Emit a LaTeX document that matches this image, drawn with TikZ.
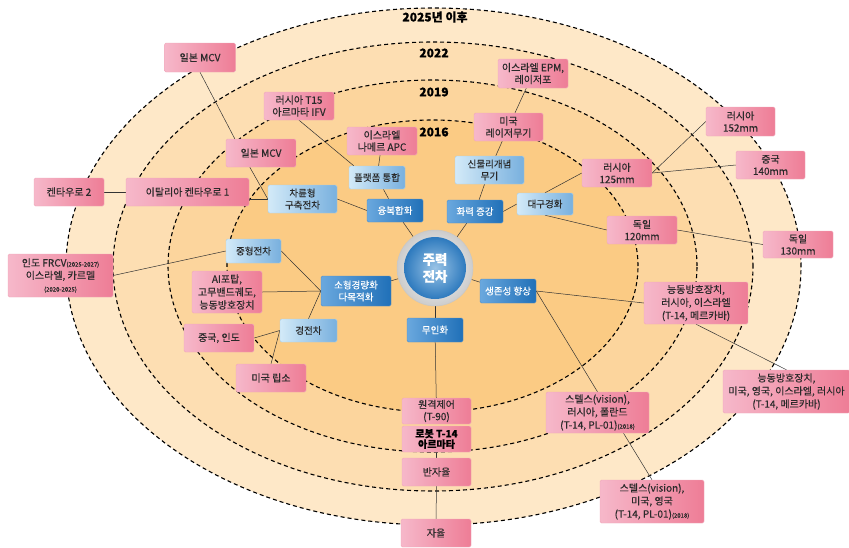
\documentclass[tikz,border=0pt]{standalone}
\usepackage{fontspec}
\setmainfont{Noto Sans CJK KR}[FakeBold=0.35]
\usetikzlibrary{calc,backgrounds}
\definecolor{ringA}{HTML}{FEE8C8}
\definecolor{ringB}{HTML}{FDDEB2}
\definecolor{ringC}{HTML}{FCD59D}
\definecolor{ringD}{HTML}{FBCB84}
\definecolor{pinkL}{HTML}{F6B8CA}
\definecolor{pinkR}{HTML}{EE7D96}
\definecolor{pinkB}{HTML}{F0A8BA}
\definecolor{lbL}{HTML}{D3EAF8}
\definecolor{lbR}{HTML}{78B0DE}
\definecolor{lbB}{HTML}{A9CFEA}
\definecolor{dbL}{HTML}{6AA8DE}
\definecolor{dbR}{HTML}{2070B8}
\definecolor{dbB}{HTML}{4F8FCC}
\definecolor{txt}{HTML}{2A2A2A}
\definecolor{lnk}{HTML}{333333}
\newcommand\pkfont{\fontsize{10}{12}\selectfont}
\newcommand\bxfont{\fontsize{9.5}{12}\selectfont}
\tikzset{
  pk/.style={rounded corners=1.5pt, left color=pinkL, right color=pinkR, draw=pinkB, line width=0.4pt,
    text=txt, align=center, font=\pkfont, inner sep=0pt, minimum width=70pt, minimum height=28pt},
  lb/.style={rounded corners=1.5pt, left color=lbL, right color=lbR, draw=lbB, line width=0.4pt,
    text=txt, align=center, font=\bxfont, inner sep=0pt, minimum width=69pt, minimum height=28pt},
  db/.style={rounded corners=1.5pt, left color=dbL, right color=dbR, draw=dbB, line width=0.4pt,
    text=white, align=center, font=\bxfont, inner sep=0pt, minimum width=56pt, minimum height=23pt},
  ring/.style={draw=black, line width=1.1pt, dash pattern=on 4pt off 3pt},
  yr/.style={font=\fontsize{12}{13}\selectfont\bfseries, text=black, inner sep=0pt},
  lk/.style={draw=lnk, line width=0.5pt}
}
\begin{document}
\begin{tikzpicture}[x=1pt,y=-1pt]
\useasboundingbox (0,0) rectangle (849,547);
\begin{scope}[on background layer]
\fill[white] (0,0) rectangle (849,547);
\filldraw[ring, fill=ringA] (433.5,266.5) ellipse [x radius=367.5pt, y radius=258.5pt];
\filldraw[ring, fill=ringB] (433,266.5) ellipse [x radius=320pt, y radius=224.5pt];
\filldraw[ring, fill=ringC] (432.5,266) ellipse [x radius=264.5pt, y radius=186pt];
\filldraw[ring, fill=ringD] (432.5,266) ellipse [x radius=205.5pt, y radius=146pt];
\end{scope}

% year labels
\node[yr] (y25) at (435,17) {2025년 이후};
\node[yr] (y22) at (434,53) {2022};
\node[yr] (y19) at (434,92) {2019};
\node[yr] (y16) at (434,132) {2016};

% centre
\node[circle, minimum size=76pt, inner sep=0pt, inner color=white, outer color=gray!40, draw=gray!45, line width=0.4pt] (ctr) at (435,268) {};
\node[circle, minimum size=62pt, inner sep=0pt, inner color=lbR!75!white, outer color=dbR!85!lbR, text=white,
  font=\fontsize{13.5}{17}\selectfont\bfseries, align=center] (core) at (435,268) {주력\\전차};

% dark blue
\node[db] (yb) at (395,210.5) {융복합화};
\node[db] (hr) at (475,211.5) {화력 증강};
\node[db, minimum width=70pt, minimum height=30pt] (sg) at (356,291) {소형경량화\\다목적화};
\node[db, minimum height=24pt] (sv) at (508,291) {생존성 향상};
\node[db, minimum height=24pt] (mi) at (435,330) {무인화};

% light blue
\node[lb, minimum width=56pt, minimum height=23pt] (pf) at (377,177.5) {플랫폼 통합};
\node[lb] (car) at (302.5,199) {차륜형\\구축전차};
\node[lb] (sm) at (489.5,170) {신물리개념\\무기};
\node[lb, minimum width=56pt, minimum height=22pt] (dg) at (545,204) {대구경화};
\node[lb, minimum width=55pt, minimum height=24pt] (mt) at (253.5,251) {중형전차};
\node[lb, minimum width=57pt, minimum height=23pt] (lt) at (308.5,330.5) {경전차};

% pink
\node[pk, minimum width=71pt, minimum height=29pt] (j1) at (200,57.5) {일본 MCV};
\node[pk] (t15) at (299,106) {러시아 T15\\아르마타 IFV};
\node[pk] (nm) at (382,141) {이스라엘\\나메르 APC};
\node[pk] (j2) at (261,153) {일본 MCV};
\node[pk, minimum height=29pt] (epm) at (533,73.5) {이스라엘 EPM,\\레이저포};
\node[pk, minimum width=69pt] (lw) at (508.5,127) {미국\\레이저무기};
\node[pk, minimum width=69pt, minimum height=29pt] (r152) at (740.5,121.5) {러시아\\152mm};
\node[pk, minimum width=69pt] (c140) at (770.5,165) {중국\\140mm};
\node[pk] (r125) at (617,173) {러시아\\125mm};
\node[pk] (d120) at (642,230) {독일\\120mm};
\node[pk, minimum height=27pt] (d130) at (798,244.5) {독일\\130mm};
\node[pk, minimum width=104pt, minimum height=42pt, font=\fontsize{10}{13}\selectfont] (a1) at (696,303) {능동방호장치,\\러시아, 이스라엘\\(T-14, 메르카바)};
\node[pk, minimum width=127pt, minimum height=43pt, font=\fontsize{10}{13}\selectfont] (a2) at (786.5,391.5) {능동방호장치,\\미국, 영국, 이스라엘, 러시아\\(T-14, 메르카바)};
\node[pk, minimum width=103pt, minimum height=41pt, font=\fontsize{10}{13}\selectfont] (s1) at (597.5,412.5) {스텔스(vision),\\러시아, 폴란드\\(T-14, PL-01){\fontsize{6}{7}\selectfont(2018)}};
\node[pk, minimum width=104pt, minimum height=43pt, font=\fontsize{10}{13}\selectfont] (s2) at (652,501.5) {스텔스(vision),\\미국, 영국\\(T-14, PL-01){\fontsize{6}{7}\selectfont(2018)}};
\node[pk, minimum width=69pt, minimum height=26pt] (rc) at (436.5,411) {원격제어\\(T-90)};
\node[pk, minimum width=69pt, minimum height=26pt, text=black, font=\fontsize{10}{10.5}\selectfont\bfseries] (rb) at (436.5,439) {로봇 T-14\\아르마타};
\node[pk, minimum width=69pt] (ha) at (436.5,472) {반자율};
\node[pk] (au) at (436,533) {자율};
\node[pk] (lp) at (271,378) {미국 립소};
\node[pk] (ci) at (219,338) {중국, 인도};
\node[pk, minimum height=42pt, font=\fontsize{10}{13}\selectfont] (ai) at (227,292) {AI포탑,\\고무밴드궤도,\\능동방호장치};
\node[pk, minimum width=105pt, minimum height=43pt, font=\fontsize{10}{12.5}\selectfont] (ind) at (60.5,275.5) {인도 FRCV{\fontsize{6}{7}\selectfont(2025-2027)}\\이스라엘, 카르멜\\{\fontsize{6}{7}\selectfont(2020-2025)}};
\node[pk] (k2) at (69,192) {켄타우로 2};
\node[pk, minimum width=123pt] (it) at (187.5,192) {이탈리아 켄타우로 1};

% connectors
\begin{scope}[on background layer]
\draw[lk] (ctr) -- (yb);
\draw[lk] (ctr) -- (hr);
\draw[lk] (ctr) -- (sg);
\draw[lk] (ctr) -- (sv);
\draw[lk] (ctr) -- (mi);
\draw[lk] (yb) -- (pf);
\draw[lk] (car.east) -- (yb.west);
\draw[lk] (pf) -- (nm);
\draw[lk] (t15.south) -- ($(pf.north west)+(5,0)$);
\draw[lk] (j1.south) -- ($(j2.north west)+(9,0)$);
\draw[lk] ($(j2.south west)+(24,0)$) -- (car.west);
\draw[lk] (it.east |- car.west) -- (car.west);
\draw[lk] (k2.east) -- (it.west);
\draw[lk] (hr) -- (sm);
\draw[lk] (sm) -- (lw);
\draw[lk] (lw) -- (epm);
\draw[lk] (hr.east) -- (dg.west);
\draw[lk] (dg.north) -- (r125.west);
\draw[lk] (r125.east) -- (r152.west);
\draw[lk] (r125.east) -- (c140.west);
\draw[lk] (dg.south) -- (d120.west);
\draw[lk] (d120.east) -- (d130.west);
\draw[lk] (sv.east) -- (a1.west);
\draw[lk] (sv.east) -- (s1.north);
\draw[lk] (a1.south) -- (a2.north);
\draw[lk] ($(s1.south)+(26,0)$) -- (s2.north);
\draw[lk] (sg.west) -- (mt.east);
\draw[lk] (sg.west) -- (ai.east);
\draw[lk] (sg.west) -- (lt.north);
\draw[lk] (mt.west) -- (ind.east);
\draw[lk] (lt.west) -- (ci.east);
\draw[lk] (lt.west) -- (lp.north);
\draw[lk] (mi) -- (rc);
\draw[lk] (rb) -- (ha);
\draw[lk] (ha) -- (au);
\end{scope}
\end{tikzpicture}
\end{document}
